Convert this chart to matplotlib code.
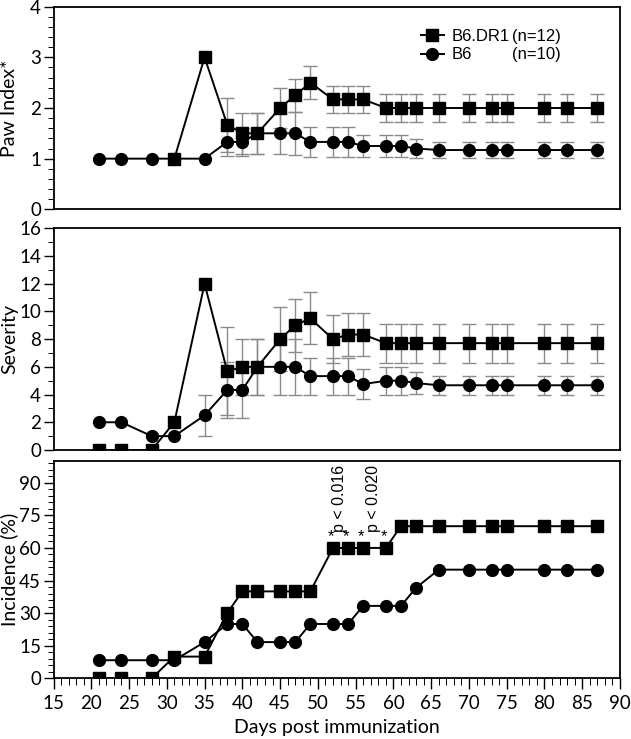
import numpy as np
import matplotlib
matplotlib.use("Agg")
import matplotlib.pyplot as plt
from matplotlib.ticker import MultipleLocator
from matplotlib.lines import Line2D

nan = np.nan
days = [21, 24, 28, 31, 35, 38, 40, 42, 45, 47, 49, 52, 54, 56, 59, 61, 63, 66, 70, 73, 75, 80, 83, 87]

dr1_paw = [nan, nan, nan, 1.0, 3.0, 1.67, 1.5, 1.5, 2.0, 2.25, 2.5, 2.17, 2.17, 2.17,
           2.0, 2.0, 2.0, 2.0, 2.0, 2.0, 2.0, 2.0, 2.0, 2.0]
dr1_paw_err = [0, 0, 0, 0, 0, 0.53, 0.41, 0.41, 0.40, 0.32, 0.32, 0.26, 0.26, 0.26,
               0.27, 0.27, 0.27, 0.27, 0.27, 0.27, 0.27, 0.27, 0.27, 0.27]
b6_paw = [1, 1, 1, 1, 1, 1.33, 1.33, 1.5, 1.5, 1.5, 1.33, 1.33, 1.33, 1.25, 1.25, 1.25,
          1.2, 1.17, 1.17, 1.17, 1.17, 1.17, 1.17, 1.17]
b6_paw_err = [0, 0, 0, 0, 0, 0.28, 0.28, 0.41, 0.41, 0.42, 0.29, 0.29, 0.29, 0.22, 0.22,
              0.22, 0.18, 0.16, 0.16, 0.16, 0.16, 0.16, 0.16, 0.16]

dr1_sev = [0, 0, 0, 2, 12, 5.67, 6, 6, 8, 9, 9.5, 8, 8.33, 8.33, 7.71, 7.71, 7.71, 7.71,
           7.71, 7.71, 7.71, 7.71, 7.71, 7.71]
dr1_sev_err = [0, 0, 0, 0, 0, 3.18, 2.0, 2.0, 2.32, 1.92, 1.87, 1.72, 1.53, 1.53, 1.41,
               1.41, 1.41, 1.41, 1.41, 1.41, 1.41, 1.41, 1.41, 1.41]
b6_sev = [2, 2, 1, 1, 2.5, 4.33, 4.33, 6, 6, 6, 5.33, 5.33, 5.33, 4.75, 5, 5, 4.83, 4.67,
          4.67, 4.67, 4.67, 4.67, 4.67, 4.67]
b6_sev_err = [0, 0, 0, 0, 1.5, 2.0, 2.0, 2.0, 2.0, 2.0, 1.33, 1.33, 1.33, 1.1, 1.0, 1.0,
              0.8, 0.67, 0.67, 0.67, 0.67, 0.67, 0.67, 0.67]

dr1_inc = [0, 0, 0, 10, 10, 30, 40, 40, 40, 40, 40, 60, 60, 60, 60, 70, 70, 70, 70, 70,
           70, 70, 70, 70]
b6_inc = [8.33, 8.33, 8.33, 8.33, 16.67, 25, 25, 16.67, 16.67, 16.67, 25, 25, 25, 33.33,
          33.33, 33.33, 41.67, 50, 50, 50, 50, 50, 50, 50]

star_days = [52, 54, 56, 59]
p_labels = ["p < 0.016", "p < 0.020"]
p_days = [52.8, 57.3]

labels = ["B6.DR1", "B6"]
ns = ["(n=12)", "(n=10)"]

TF = "Lato"
AF = "Liberation Sans"

fig = plt.figure(figsize=(6.31, 7.39), dpi=100)
L, W = 0.0848, 0.8978
ax1 = fig.add_axes([L, 0.7168, W, 0.2741])
ax2 = fig.add_axes([L, 0.3911, W, 0.3000])
ax3 = fig.add_axes([L, 0.0821, W, 0.2941])

ecol = "#8a8a8a"

def series(ax, y, err, marker, ms, z):
    y = np.array(y, float)
    if err is not None:
        e = np.array(err, float)
        m = (e > 0) & ~np.isnan(y)
        ax.errorbar(np.array(days)[m], y[m], yerr=e[m], fmt="none", ecolor=ecol,
                    elinewidth=1.0, capsize=5, capthick=1.0, zorder=1)
    ax.plot(days, y, color="black", lw=1.4, marker=marker, ms=ms, mfc="black",
            mec="black", zorder=z)

for ax, (d_y, d_e, b_y, b_e) in zip(
        [ax1, ax2, ax3],
        [(dr1_paw, dr1_paw_err, b6_paw, b6_paw_err),
         (dr1_sev, dr1_sev_err, b6_sev, b6_sev_err),
         (dr1_inc, None, b6_inc, None)]):
    series(ax, b_y, b_e, "o", 8.5, 3)
    series(ax, d_y, d_e, "s", 8, 4)
    ax.set_xlim(15, 90)
    for s in ax.spines.values():
        s.set_linewidth(1.3)
    ax.tick_params(axis="y", which="major", direction="out", length=7, width=1.0,
                   labelsize=13.5, pad=2)
    ax.tick_params(axis="y", which="minor", direction="out", length=4, width=0.7)

ax1.set_ylim(0, 4)
ax1.yaxis.set_major_locator(MultipleLocator(1))
ax1.yaxis.set_minor_locator(MultipleLocator(0.2))
ax2.set_ylim(0, 16)
ax2.yaxis.set_major_locator(MultipleLocator(2))
ax2.yaxis.set_minor_locator(MultipleLocator(1))
ax3.set_ylim(0, 100)
ax3.set_yticks([0, 15, 30, 45, 60, 75, 90])
ax3.yaxis.set_minor_locator(MultipleLocator(3))

for ax in (ax1, ax2):
    ax.tick_params(axis="x", which="both", bottom=False, labelbottom=False)

ax3.xaxis.set_major_locator(MultipleLocator(5))
ax3.xaxis.set_minor_locator(MultipleLocator(1))
ax3.tick_params(axis="x", which="major", direction="out", length=8, width=1.0,
                labelsize=13.5, pad=4)
ax3.tick_params(axis="x", which="minor", direction="out", length=5, width=0.7)

for ax in (ax1, ax2, ax3):
    for t in ax.get_yticklabels() + ax.get_xticklabels():
        t.set_fontfamily(TF)

ax1.set_ylabel("Paw Index*", fontfamily=TF, fontsize=14)
ax2.set_ylabel("Severity", fontfamily=TF, fontsize=14)
ax3.set_ylabel("Incidence (%)", fontfamily=TF, fontsize=14)
ax3.set_xlabel("Days post immunization", fontfamily=TF, fontsize=14, labelpad=5)
for ax in (ax1, ax2, ax3):
    ax.yaxis.set_label_coords(-0.062, 0.5)

# legend
handles = [Line2D([], [], color="black", lw=1.4, marker="s", ms=8),
           Line2D([], [], color="black", lw=1.4, marker="o", ms=8.5)]
ax1.legend(handles, labels, loc="upper left", bbox_to_anchor=(0.648, 0.89),
           frameon=False, handlelength=1.4, handletextpad=0.45, labelspacing=0.2,
           borderaxespad=0, borderpad=0, prop={"family": AF, "size": 12})
for i, n in enumerate(ns):
    ax1.text(0.81, 0.853 - i * 0.087, n, transform=ax1.transAxes, ha="left",
             va="center", fontfamily=AF, fontsize=12)

# stars and p-values
for d in star_days:
    ax3.text(d - 0.3, 65, "*", ha="center", va="center", fontfamily=AF, fontsize=12)
for d, t in zip(p_days, p_labels):
    ax3.text(d, 67.5, t, rotation=90, ha="center", va="bottom", fontfamily=AF,
             fontsize=11.5)

fig.savefig("out.png", dpi=100)
